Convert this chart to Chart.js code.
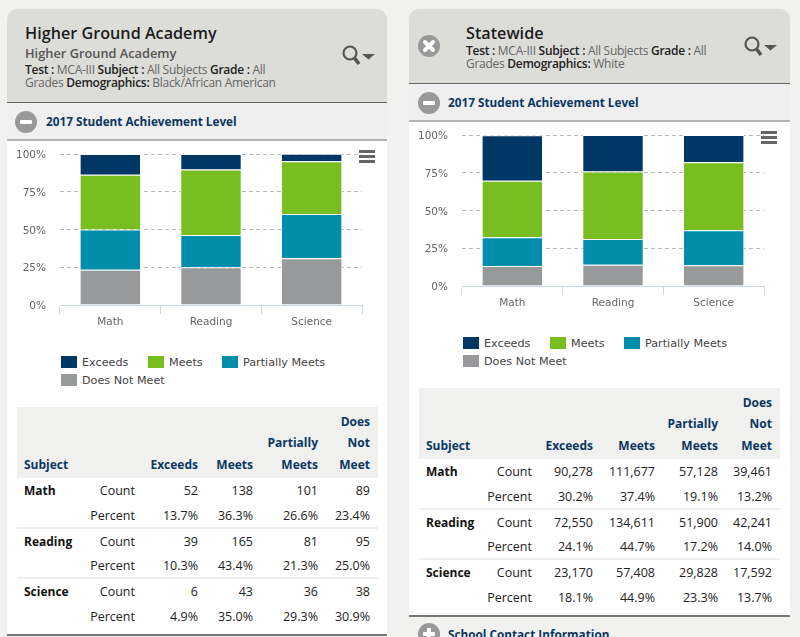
<!DOCTYPE html>
<html>
<head>
<meta charset="utf-8">
<title>Student Achievement Level</title>
<script src="https://cdn.jsdelivr.net/npm/chart.js@4"></script>
<style>
  html, body { margin: 0; padding: 0; }
  body { width: 800px; height: 637px; overflow: hidden; position: relative; background: #f1f1ef; font-family: "Open Sans", sans-serif; }
  .abs { position: absolute; }
  .panel { background: #fff; }
  .head { background: #dcdcd8; border-radius: 10px 10px 0 0; border-bottom: 1px solid #666; box-sizing: border-box; }
  .bar { background: #efefef; border-bottom: 2px solid #b4b4b4; box-sizing: border-box; }
  .title { font-size: 16.2px; font-weight: 600; color: #1c1c1c; white-space: nowrap; }
  .sub { font-size: 12.8px; font-weight: 600; color: #555; white-space: nowrap; }
  .meta { font-size: 12px; line-height: 13px; color: #666; letter-spacing: -0.28px; }
  .meta b { color: #222; font-weight: 600; }
  .sec { font-size: 11.75px; font-weight: 700; color: #0b3763; white-space: nowrap; }
  .legend-item { font: 11.2px "DejaVu Sans", sans-serif; color: #444; white-space: nowrap; }
  .legend-item i { position: absolute; left: 0; top: 0; width: 16px; height: 12px; }
  .legend-item span { position: absolute; left: 21px; top: 0; }
  .burger { width: 16px; height: 3px; background: #666; }
  table { position: absolute; border-collapse: collapse; table-layout: fixed; font-size: 12.5px; color: #222; }
  th { background: #f0f0ee; color: #0b3763; font-size: 12px; font-weight: 700; text-align: right; vertical-align: bottom; padding: 0 8px 3px 0; line-height: 21.3px; height: 68px; }
  th.first, td.first { text-align: left; padding-left: 7px; }
  td { position: relative; top: 1px; text-align: right; padding: 0 8px 0 0; height: 24.5px; line-height: 24.5px; white-space: nowrap; }
  td.first { font-size: 12px; font-weight: 700; color: #111; }
  tr.last td { border-bottom: 2px solid #eee; height: 24px; line-height: 24px; }
  tr.end td { border-bottom: 0; }
</style>
</head>
<body>
<script>
// ---- data ----
const subjects = ["Math", "Reading", "Science"];
const levels = ["Exceeds", "Meets", "Partially Meets", "Does Not Meet"];
const levelColors = ["#003764", "#78be20", "#008eaa", "#97999b"];
const yTicks = [0, 25, 50, 75, 100];

const schoolExceeds = [13.7, 10.3, 4.9];
const schoolMeets = [36.3, 43.4, 35.0];
const schoolPartial = [26.6, 21.3, 29.3];
const schoolNotMeet = [23.4, 25.0, 30.9];
const schoolCounts = [
  ["52", "138", "101", "89"],
  ["39", "165", "81", "95"],
  ["6", "43", "36", "38"],
];

const stateExceeds = [30.2, 24.1, 18.1];
const stateMeets = [37.4, 44.7, 44.9];
const statePartial = [19.1, 17.2, 23.3];
const stateNotMeet = [13.2, 14.0, 13.7];
const stateCounts = [
  ["90,278", "111,677", "57,128", "39,461"],
  ["72,550", "134,611", "51,900", "42,241"],
  ["23,170", "57,408", "29,828", "17,592"],
];

// ---- helpers ----
function box(cls, left, top, width, height, html) {
  const el = document.createElement("div");
  el.className = "abs " + cls;
  el.style.left = left + "px";
  el.style.top = top + "px";
  if (width) el.style.width = width + "px";
  if (height) el.style.height = height + "px";
  if (html) el.innerHTML = html;
  document.body.appendChild(el);
  return el;
}

function circleIcon(left, top, kind) {
  let mark = '<rect x="5" y="9" width="12" height="4" rx="1" fill="#fff"/>';
  if (kind === "plus") mark += '<rect x="9" y="5" width="4" height="12" rx="1" fill="#fff"/>';
  if (kind === "x") mark = '<path d="M7 7L15 15M15 7L7 15" stroke="#fff" stroke-width="4" stroke-linecap="round"/>';
  box("", left, top, 22, 22, '<svg width="22" height="22"><circle cx="11" cy="11" r="11" fill="#999"/>' + mark + "</svg>");
}

function searchIcon(left, top) {
  box("", left, top, 34, 22,
    '<svg width="34" height="22"><circle cx="8" cy="8" r="6.5" fill="none" stroke="#555" stroke-width="2.2"/>' +
    '<path d="M12.5 13L17 19" stroke="#555" stroke-width="3.6"/><path d="M20 9H33L26.5 14.5Z" fill="#555"/></svg>');
}

function drawChart(left, top, series) {
  const canvas = document.createElement("canvas");
  canvas.className = "abs";
  canvas.style.left = left + "px";
  canvas.style.top = top + "px";
  canvas.width = 380;
  canvas.height = 200;
  document.body.appendChild(canvas);

  // bottom of the stack comes first, so the legend order is reversed
  const datasets = levels.map((name, i) => ({
    label: name,
    data: series[i],
    backgroundColor: levelColors[i],
    borderColor: "#fff",
    borderWidth: 1,
    barPercentage: 0.61,
    categoryPercentage: 1,
  })).reverse();

  const chart = new Chart(canvas, {
    type: "bar",
    data: { labels: subjects, datasets: datasets },
    options: {
      responsive: false,
      animation: false,
      devicePixelRatio: 1,
      layout: { padding: { top: 13, right: 25, left: 0, bottom: 0 } },
      plugins: { legend: { display: false }, tooltip: { enabled: false } },
      scales: {
        x: {
          stacked: true,
          grid: { offset: true, drawOnChartArea: false, color: "#ccd6eb", tickLength: 9 },
          border: { color: "#ccd6eb" },
          ticks: { color: "#666", font: { family: "DejaVu Sans", size: 10.5 }, padding: 2, maxRotation: 0 },
          afterFit: (scale) => { scale.height = 36; scale.paddingLeft = 0; scale.paddingRight = 0; },
        },
        y: {
          stacked: true,
          min: yTicks[0],
          max: yTicks[yTicks.length - 1],
          grid: {
            drawTicks: false,
            color: (ctx) => (ctx.tick && ctx.tick.value === 0 ? "transparent" : "#b8b8b8"),
          },
          border: { display: false, dash: [4, 3] },
          afterBuildTicks: (scale) => { scale.ticks = yTicks.map((v) => ({ value: v })); },
          ticks: {
            color: "#666",
            font: { family: "DejaVu Sans", size: 10.5 },
            padding: 14,
            labelOffset: 1.5,
            callback: (v) => v + "%",
          },
          afterFit: (scale) => { scale.width = 53; scale.paddingTop = 0; scale.paddingBottom = 0; },
        },
      },
    },
  });
  return chart;
}

function drawLegend(chart, spots) {
  // legend items come from the chart's datasets, exceeds first
  chart.data.datasets.slice().reverse().forEach((ds, i) => {
    box("legend-item", spots[i][0], spots[i][1], 0, 0,
      '<i style="background:' + ds.backgroundColor + '"></i><span>' + ds.label + "</span>");
  });
}

function burger(left, top) {
  [0, 5, 10].forEach((d) => box("burger", left, top + d));
}

function drawTable(left, top, cols, pctSeries, counts) {
  const table = document.createElement("table");
  table.style.left = left + "px";
  table.style.top = top + "px";
  table.style.width = cols.reduce((a, b) => a + b, 0) + "px";

  let html = "<colgroup>" + cols.map((c) => '<col style="width:' + c + 'px">').join("") + "</colgroup>";
  html += '<tr><th class="first">Subject</th><th></th>';
  html += '<th>Exceeds</th><th>Meets</th><th>Partially<br>Meets</th><th>Does<br>Not<br>Meet</th></tr>';
  subjects.forEach((name, s) => {
    const end = s === subjects.length - 1 ? " end" : "";
    html += '<tr><td class="first">' + name + "</td><td>Count</td>";
    html += counts[s].map((c) => "<td>" + c + "</td>").join("") + "</tr>";
    html += '<tr class="last' + end + '"><td></td><td>Percent</td>';
    html += pctSeries.map((p) => "<td>" + p[s].toFixed(1) + "%</td>").join("") + "</tr>";
  });
  table.innerHTML = html;
  document.body.appendChild(table);
}

// ---- left panel ----
box("panel", 7, 102, 380, 532);
box("head", 7, 9, 380, 94);
box("title", 25, 22, 0, 0, "Higher Ground Academy");
box("sub", 25, 44, 0, 0, "Higher Ground Academy");
box("meta", 25, 63, 265, 0, "<b>Test :</b> MCA-III <b>Subject :</b> All Subjects <b>Grade :</b> All Grades <b>Demographics:</b> Black/African American");
searchIcon(342, 45);
box("bar", 7, 103, 380, 38);
circleIcon(15, 111, "minus");
box("sec", 46, 113, 0, 0, "2017 Student Achievement Level");
const schoolChart = drawChart(7, 141, [schoolExceeds, schoolMeets, schoolPartial, schoolNotMeet]);
burger(359, 150);
drawLegend(schoolChart, [[61, 356], [148, 356], [222, 356], [61, 374]]);
drawTable(17, 407, [63, 63, 63, 55, 65, 52], [schoolExceeds, schoolMeets, schoolPartial, schoolNotMeet], schoolCounts);
box("", 7, 634, 380, 2).style.background = "#777";

// ---- right panel ----
box("panel", 409, 83, 381, 532);
box("head", 409, 9, 381, 75);
circleIcon(418, 35, "x");
box("title", 466, 22, 0, 0, "Statewide");
box("meta", 466, 44, 265, 0, "<b>Test :</b> MCA-III <b>Subject :</b> All Subjects <b>Grade :</b> All Grades <b>Demographics:</b> White");
searchIcon(744, 36);
box("bar", 409, 84, 381, 38);
circleIcon(418, 92, "minus");
box("sec", 448, 94, 0, 0, "2017 Student Achievement Level");
const stateChart = drawChart(409, 122, [stateExceeds, stateMeets, statePartial, stateNotMeet]);
burger(761, 131);
drawLegend(stateChart, [[463, 337], [550, 337], [624, 337], [463, 355]]);
drawTable(419, 388, [61, 60, 61, 62, 63, 54], [stateExceeds, stateMeets, statePartial, stateNotMeet], stateCounts);
box("", 409, 615, 381, 2).style.background = "#777";
circleIcon(418, 623, "plus");
box("sec", 448, 626, 0, 0, "School Contact Information");
</script>
</body>
</html>
